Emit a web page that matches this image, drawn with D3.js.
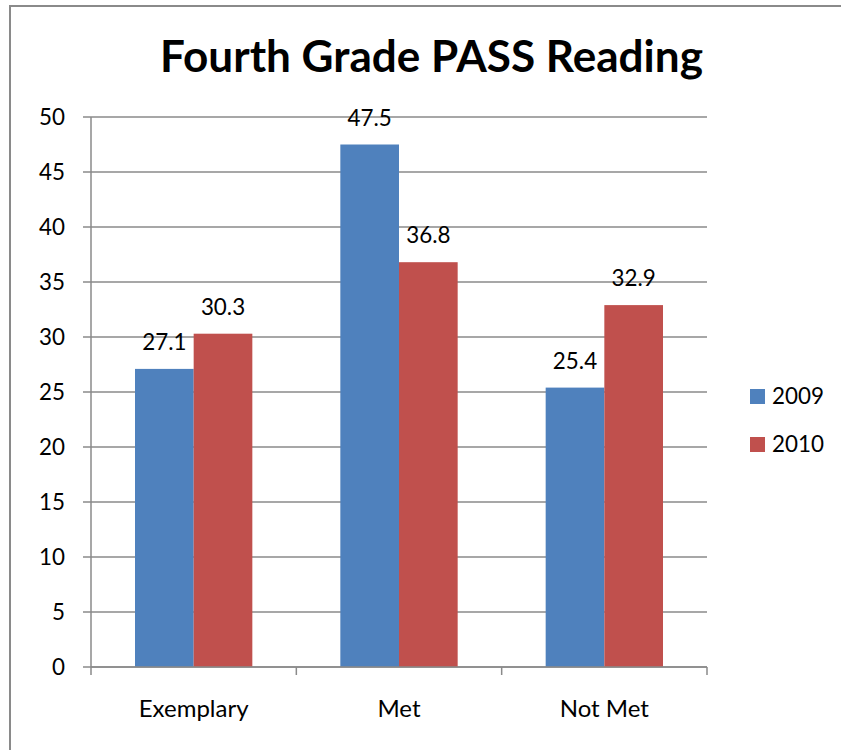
<!DOCTYPE html>
<html>
<head>
<meta charset="utf-8">
<script src="https://cdn.jsdelivr.net/npm/d3@7"></script>
<style>
html,body{margin:0;padding:0;background:#fff;}
svg{display:block;}
text{font-family:Lato,"Open Sans",sans-serif;fill:#000;}
</style>
</head>
<body>
<svg id="chart" width="841" height="750"></svg>
<script>
const title = "Fourth Grade PASS Reading";
const categories = ["Exemplary", "Met", "Not Met"];
const seriesNames = ["2009", "2010"];
const values2009 = [27.1, 47.5, 25.4];
const values2010 = [30.3, 36.8, 32.9];
const yTicks = [0, 5, 10, 15, 20, 25, 30, 35, 40, 45, 50];
const colors = ["#4F81BD", "#C0504D"];

(function () {
const seriesValues = [values2009, values2010];
const svg = d3.select("#chart");

// outer frame (cropped on right/bottom)
svg.append("path")
  .attr("d", "M10,750 L10,6 L841,6")
  .attr("fill", "none").attr("stroke", "#8a8a8a").attr("stroke-width", 2);

const pl = 91, pr = 707, pt = 117, pb = 667;
const x0 = d3.scaleBand().domain(categories).range([pl, pr]).paddingInner(0).paddingOuter(0);
const x1 = d3.scaleBand().domain(seriesNames).range([0, x0.bandwidth()]).paddingInner(0).paddingOuter(0.75);
const y = d3.scaleLinear().domain([0, 50]).range([pb, pt]);

// gridlines
svg.append("g").selectAll("line").data(yTicks).join("line")
  .attr("x1", pl - 8).attr("x2", pr)
  .attr("y1", d => y(d)).attr("y2", d => y(d))
  .attr("stroke", "#8a8a8a").attr("stroke-width", 1.5);

// y axis line
svg.append("line").attr("x1", pl).attr("x2", pl).attr("y1", pt).attr("y2", pb)
  .attr("stroke", "#8a8a8a").attr("stroke-width", 1.5);

// y tick labels
svg.append("g").selectAll("text").data(yTicks).join("text")
  .attr("x", 65).attr("y", d => y(d) + 8)
  .attr("text-anchor", "end").attr("font-size", 22.4)
  .text(d => d);

// x category ticks
const catEdges = categories.map(c => x0(c)).concat([pr]);
svg.append("g").selectAll("line").data(catEdges).join("line")
  .attr("x1", d => d).attr("x2", d => d)
  .attr("y1", pb).attr("y2", pb + 8)
  .attr("stroke", "#8a8a8a").attr("stroke-width", 1.5);

// bars
const groups = svg.append("g").selectAll("g").data(categories).join("g")
  .attr("transform", c => `translate(${x0(c)},0)`);
seriesNames.forEach((s, si) => {
  groups.append("rect")
    .attr("x", x1(s)).attr("width", x1.bandwidth())
    .attr("y", (c, ci) => y(seriesValues[si][ci]))
    .attr("height", (c, ci) => pb - y(seriesValues[si][ci]))
    .attr("fill", colors[si]);
  groups.append("text")
    .attr("x", x1(s) + x1.bandwidth() / 2)
    .attr("y", (c, ci) => y(seriesValues[si][ci]) - 19)
    .attr("text-anchor", "middle").attr("font-size", 22.4)
    .text((c, ci) => seriesValues[si][ci].toFixed(1));
});

// x axis line (on top of bars)
svg.append("line").attr("x1", pl).attr("x2", pr).attr("y1", pb).attr("y2", pb)
  .attr("stroke", "#8a8a8a").attr("stroke-width", 1.5);

// category labels
svg.append("g").selectAll("text").data(categories).join("text")
  .attr("x", c => x0(c) + x0.bandwidth() / 2).attr("y", 717)
  .attr("text-anchor", "middle").attr("font-size", 24)
  .text(c => c);

// legend
const legend = svg.append("g").selectAll("g").data(seriesNames).join("g")
  .attr("transform", (d, i) => `translate(750,${389 + i * 48})`);
legend.append("rect").attr("width", 15).attr("height", 15).attr("fill", (d, i) => colors[i]);
legend.append("text").attr("x", 22).attr("y", 15).attr("font-size", 22.4).text(d => d);

// title, fitted to width
const t = svg.append("text").attr("x", 431.5).attr("y", 72)
  .attr("text-anchor", "middle").attr("font-weight", "bold").attr("font-size", 44)
  .text(title);
const w = t.node().getComputedTextLength();
t.attr("font-size", 44 * 543 / w);
})();
</script>
</body>
</html>
